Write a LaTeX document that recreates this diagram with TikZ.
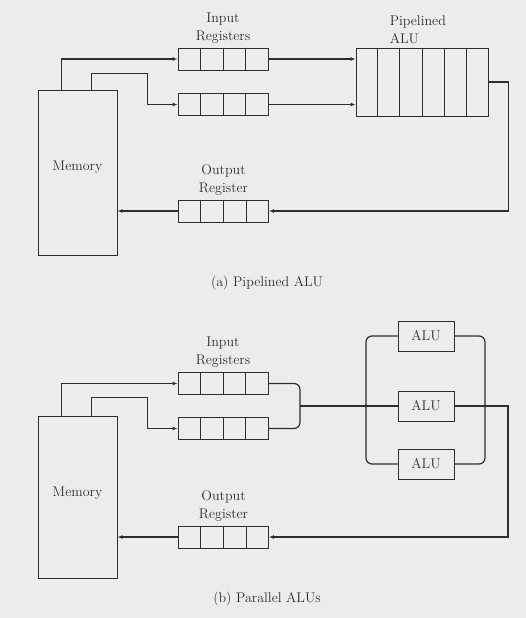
\documentclass[tikz,border=0pt]{standalone}
\usepackage{tikz}
\usetikzlibrary{arrows.meta,positioning,calc}
\definecolor{ink}{HTML}{2E2E2E}
\definecolor{paper}{HTML}{ECECEC}

\begin{document}
\begin{tikzpicture}[x=1pt,y=-1pt,
 box/.style={draw=ink,line width=0.9pt,inner sep=0pt},
 membox/.style={box,minimum width=79pt},
 reg/.style={box,minimum width=90pt,minimum height=22pt},
 alubox/.style={box,minimum width=56pt,minimum height=30pt,font=\fontsize{14}{18}\selectfont,text=ink},
 lbl/.style={font=\fontsize{14}{18}\selectfont,text=ink,inner sep=0pt},
 line/.style={draw=ink,line width=1.2pt},
 bus/.style={line,rounded corners=6pt},
 arrow/.style={line,-{Latex[length=5pt,width=4pt]}}]
\fill[paper] (0,0) rectangle (526,618);
\useasboundingbox (0,0) rectangle (526,618);

\node[membox,minimum height=165pt] (memA) at (77.5,172.5) {};
\node[lbl] at ([yshift=5pt]memA.center) {Memory};
\node[reg] (inA1) at (223,59) {};
\node[reg] (inA2) at (223,104.5) {};
\node[box,minimum width=132pt,minimum height=68pt] (alu) at (422,82) {};
\node[reg] (outA) at (223.5,211) {};
\node[lbl,align=center,above=4pt of inA1] {Input\\Registers};
\node[lbl,align=left,anchor=south west] at ([xshift=34pt,yshift=4pt]alu.north west) {Pipelined\\ALU};
\node[lbl,align=center,above=4pt of outA] {Output\\Register};
\node[lbl] (capA) at (267,283) {(a) Pipelined ALU};
\foreach \k in {1,...,5}
  \draw[box] ($(alu.north west)!\k/6!(alu.north east)$) -- ($(alu.south west)!\k/6!(alu.south east)$);
\draw[arrow] ([xshift=24pt]memA.north west) |- (inA1.west);
\draw[arrow] ([xshift=54pt]memA.north west) |- ++(56,-16) |- (inA2.west);
\draw[arrow] (inA1) -- (inA1 -| alu.west);
\draw[arrow] (inA2) -- (inA2 -| alu.west);
\draw[arrow] (alu.east) -- ++(20,0) |- (outA.east);
\draw[arrow] (outA) -- (outA -| memA.east);

\node[membox,minimum height=162pt] (memB) at (77.5,497) {};
\node[lbl] at ([yshift=4pt]memB.center) {Memory};
\node[reg] (inB1) at (223,383.5) {};
\node[reg] (inB2) at (223,428.5) {};
\node[alubox] (aluB1) at (426,336) {ALU};
\node[alubox] (aluB2) at (426,406) {ALU};
\node[alubox] (aluB3) at (426,464) {ALU};
\node[reg] (outB) at (223.5,537) {};
\node[lbl,align=center,above=4pt of inB1] {Input\\Registers};
\node[lbl,align=center,above=4pt of outB] {Output\\Register};
\node[lbl] (capB) at (267,599) {(b) Parallel ALUs};
\coordinate (mrg) at (300,406);
\coordinate (lbus) at (366,406);
\coordinate (rbus) at (485,406);
\draw[arrow] ([xshift=24pt]memB.north west) |- (inB1.west);
\draw[arrow] ([xshift=54pt]memB.north west) |- ++(56,-18) |- (inB2.west);
\draw[bus] (inB1.east) -| (mrg);
\draw[bus] (inB2.east) -| (mrg);
\draw[line] (mrg) -- (aluB2.west);
\draw[bus] (aluB1.west) -| (lbus) |- (aluB3.west);
\draw[bus] (aluB1.east) -| (rbus) |- (aluB3.east);
\draw[line] (aluB2.east) -- (rbus);
\fill[ink] (lbus) circle (1.7pt) (rbus) circle (1.7pt);
\draw[arrow] (rbus) -- ++(23,0) |- (outB.east);
\draw[arrow] (outB) -- (outB -| memB.east);

\foreach \r in {inA1,inA2,outA,inB1,inB2,outB}
  \foreach \k in {1,2,3}
    \draw[box] ($(\r.north west)!\k/4!(\r.north east)$) -- ($(\r.south west)!\k/4!(\r.south east)$);
\end{tikzpicture}
\end{document}
